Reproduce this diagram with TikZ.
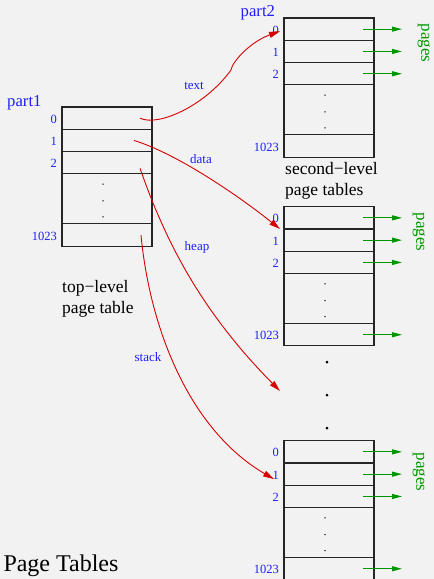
\documentclass[tikz,border=0pt]{standalone}
\usepackage{fontspec}
\setmainfont{Liberation Serif}
\usetikzlibrary{arrows.meta,positioning}

\definecolor{bg}{RGB}{242,242,242}
\definecolor{idx}{RGB}{30,30,255}
\definecolor{ptr}{RGB}{215,0,0}
\definecolor{pg}{RGB}{0,150,0}

\tikzset{
  entry/.style={draw=black!85, line width=1.1pt, minimum width=90pt,
                minimum height=22.3pt, inner sep=0pt, outer sep=0pt},
  gapbox/.style={entry, minimum height=50pt},
  idxlabel/.style={text=idx, font=\fontsize{12.5}{15}\selectfont, inner sep=0pt, anchor=east},
  ptrlabel/.style={text=idx, font=\fontsize{13}{15}\selectfont, inner sep=0pt},
  ptrline/.style={draw=ptr, line width=0.9pt, -{Triangle[length=11pt,width=6pt]}},
  pgarrow/.style={draw=pg, line width=1.1pt, -{Triangle[length=10pt,width=5pt]}},
  pglabel/.style={text=pg, font=\fontsize{17}{20}\selectfont, rotate=-90, inner sep=0pt},
  caption/.style={font=\fontsize{17.5}{21}\selectfont, inner sep=0pt, anchor=base west},
  tabname/.style={text=idx, font=\fontsize{16.7}{20}\selectfont, inner sep=0pt, anchor=base west},
}

% one page table: name, left x, top y
\newcommand\pagetab[3]{%
  \node[entry, anchor=north west] (#1-0) at (#2,#3) {};
  \node[entry, below=0pt of #1-0] (#1-1) {};
  \node[entry, below=0pt of #1-1] (#1-2) {};
  \node[gapbox, below=0pt of #1-2] (#1-g) {};
  \node[entry, below=0pt of #1-g] (#1-1023) {};
  \foreach \r in {0,1,2,1023}{%
    \node[idxlabel] (#1-l\r) at ([xshift=-5pt,yshift=-1pt]#1-\r.west) {\r};}
  \foreach \d in {14.7,-2,-18}{%
    \fill ([xshift=-4pt,yshift=\d pt]#1-g.center) circle (0.75pt);}
}
% arrows from entries of a table out to the pages
\newcommand\pagelinks[2]{%
  \foreach \r in {#2}{%
    \draw[pgarrow] ([xshift=-11pt]#1-\r.east) -- ([xshift=28pt]#1-\r.east);}
}

\begin{document}
\begin{tikzpicture}[x=1pt,y=-1pt]
  \fill[bg] (0,0) rectangle (434,579);
  \useasboundingbox (0,0) rectangle (434,579);

  % tables
  \pagetab{top}{62}{107}
  \pagetab{sa}{284}{18}
  \pagetab{sb}{284}{206.7}
  \pagetab{sc}{284}{440.7}

  \pagelinks{sa}{0,1,2}
  \pagelinks{sb}{0,1,2,1023}
  \pagelinks{sc}{0,1,2,1023}

  \node[pglabel] (pga) at (424,43) {pages};
  \node[pglabel] (pgb) at (419,232) {pages};
  \node[pglabel] (pgc) at (419,472) {pages};

  % further second-level tables
  \coordinate (more) at (327,395);
  \fill ([yshift=33pt]more) circle (1.5pt);
  \fill (more) circle (1.5pt);
  \fill ([yshift=-33pt]more) circle (1.5pt);

  % titles and captions
  \node[tabname] (part1) at (7,106.5) {part1};
  \node[tabname] (part2) at (240.5,16.5) {part2};
  \node[caption] (capta) at (62,292) {top−level};
  \node[caption] (captb) at (62,313) {page table};
  \node[caption] (captc) at (285,174.5) {second−level};
  \node[caption] (captd) at (285,195) {page tables};
  \node[font=\fontsize{24}{28}\selectfont, anchor=base west, inner sep=0pt] (title) at (3.3,571.5) {Page Tables};

  % pointers from the top-level table
  \draw[ptrline] ([xshift=33pt]top-0.center)
      .. controls (158,127) and (205,106) .. (231,70)
      .. controls (232,62) and (250,42) .. ([xshift=-4pt,yshift=-2pt]sa-0.west);
  \draw[ptrline] ([xshift=27pt]top-1.center)
      .. controls (175,153) and (235,193) .. ([xshift=-4pt]sb-1.north west);
  \draw[ptrline] ([xshift=33pt,yshift=-5.5pt]top-2.center)
      .. controls (165,240) and (200,310) .. ([xshift=-47pt,yshift=4pt]more);
  \draw[ptrline] ([xshift=34pt]top-1023.center)
      .. controls (150,330) and (190,430) .. ([xshift=-10pt,yshift=-5pt]sc-1.west);

  \node[ptrlabel] (ltext) at (194,86) {text};
  \node[ptrlabel] (ldata) at (201,159) {data};
  \node[ptrlabel] (lheap) at (197,247) {heap};
  \node[ptrlabel] (lstack) at (148,357.5) {stack};
\end{tikzpicture}
\end{document}
